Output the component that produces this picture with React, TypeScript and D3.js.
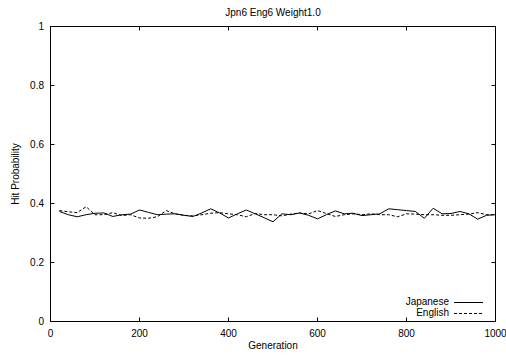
import React from "react";
import * as d3 from "d3";

const generations: number[] = [
  20, 40, 60, 80, 100, 120, 140, 160, 180, 200,
  220, 240, 260, 280, 300, 320, 340, 360, 380, 400,
  420, 440, 460, 480, 500, 520, 540, 560, 580, 600,
  620, 640, 660, 680, 700, 720, 740, 760, 780, 800,
  820, 840, 860, 880, 900, 920, 940, 960, 980, 1000,
];

const japanese: number[] = [
  0.373, 0.362, 0.355, 0.362, 0.367, 0.368, 0.356, 0.362, 0.364, 0.378,
  0.370, 0.362, 0.364, 0.365, 0.360, 0.356, 0.368, 0.382, 0.368, 0.351,
  0.365, 0.378, 0.365, 0.352, 0.338, 0.365, 0.362, 0.368, 0.360, 0.348,
  0.362, 0.375, 0.365, 0.367, 0.359, 0.362, 0.365, 0.382, 0.379, 0.376,
  0.373, 0.350, 0.384, 0.365, 0.366, 0.373, 0.365, 0.347, 0.360, 0.362,
];

const english: number[] = [
  0.376, 0.372, 0.369, 0.389, 0.362, 0.362, 0.369, 0.359, 0.362, 0.351,
  0.350, 0.355, 0.376, 0.365, 0.360, 0.358, 0.362, 0.367, 0.369, 0.365,
  0.362, 0.355, 0.366, 0.362, 0.362, 0.358, 0.364, 0.368, 0.365, 0.376,
  0.366, 0.356, 0.362, 0.365, 0.362, 0.365, 0.362, 0.362, 0.355, 0.365,
  0.364, 0.362, 0.362, 0.360, 0.360, 0.362, 0.364, 0.369, 0.362, 0.362,
];

const xTicks: number[] = [0, 200, 400, 600, 800, 1000];
const yTicks: number[] = [0, 0.2, 0.4, 0.6, 0.8, 1];
const yTickLabels: string[] = ["0", "0.2", "0.4", "0.6", "0.8", "1"];

const title = "Jpn6 Eng6 Weight1.0";
const xLabel = "Generation";
const yLabel = "Hit Probability";
const seriesNames: string[] = ["Japanese", "English"];

export default function App() {
  const W = 506;
  const H = 355;
  const left = 50.5;
  const right = 495.5;
  const top = 26.5;
  const bottom = 321.5;
  const font = "'Liberation Sans', Arial, Helvetica, sans-serif";

  const x = d3.scaleLinear().domain([0, 1000]).range([left, right]);
  const y = d3.scaleLinear().domain([0, 1]).range([bottom, top]);

  const line = d3
    .line<number>()
    .x((_, i) => x(generations[i]))
    .y((d) => y(d));

  const tickLen = 4;
  const px = (v: number) => Math.round(v - 0.5) + 0.5;

  return (
    <svg
      width={W}
      height={H}
      style={{ position: "absolute", left: 0, top: 0, background: "#fff" }}
      fontFamily={font}
      fontSize={10}
    >
      <rect x={0} y={0} width={W} height={H} fill="#fff" />
      <text x={273} y={16} textAnchor="middle" fill="#000">
        {title}
      </text>
      {xTicks.map((t) => (
        <g key={"x" + t}>
          <line x1={px(x(t))} x2={px(x(t))} y1={bottom} y2={bottom - tickLen} stroke="#000" />
          <line x1={px(x(t))} x2={px(x(t))} y1={top} y2={top + tickLen} stroke="#000" />
          <text x={x(t)} y={337} textAnchor="middle" fill="#000">
            {t}
          </text>
        </g>
      ))}
      {yTicks.map((t, i) => (
        <g key={"y" + t}>
          <line x1={left} x2={left + tickLen} y1={px(y(t))} y2={px(y(t))} stroke="#000" />
          <line x1={right} x2={right - tickLen} y1={px(y(t))} y2={px(y(t))} stroke="#000" />
          <text x={44} y={y(t) + 3.5} textAnchor="end" fill="#000">
            {yTickLabels[i]}
          </text>
        </g>
      ))}
      <text x={273} y={349} textAnchor="middle" fill="#000">
        {xLabel}
      </text>
      <text
        transform={`translate(19, ${(top + bottom) / 2}) rotate(-90)`}
        textAnchor="middle"
        fill="#000"
      >
        {yLabel}
      </text>
      <path d={line(japanese) || ""} fill="none" stroke="#000" strokeWidth={1} />
      <path
        d={line(english) || ""}
        fill="none"
        stroke="#000"
        strokeWidth={1}
        strokeDasharray="3,2"
      />
      <text x={449} y={305} textAnchor="end" fill="#000">
        {seriesNames[0]}
      </text>
      <line x1={454} x2={483} y1={302.5} y2={302.5} stroke="#000" />
      <text x={449} y={316} textAnchor="end" fill="#000">
        {seriesNames[1]}
      </text>
      <line x1={454} x2={483} y1={313.5} y2={313.5} stroke="#000" strokeDasharray="3,2" />
      <rect
        x={left}
        y={top}
        width={right - left}
        height={bottom - top}
        fill="none"
        stroke="#000"
        strokeWidth={1}
      />
    </svg>
  );
}
